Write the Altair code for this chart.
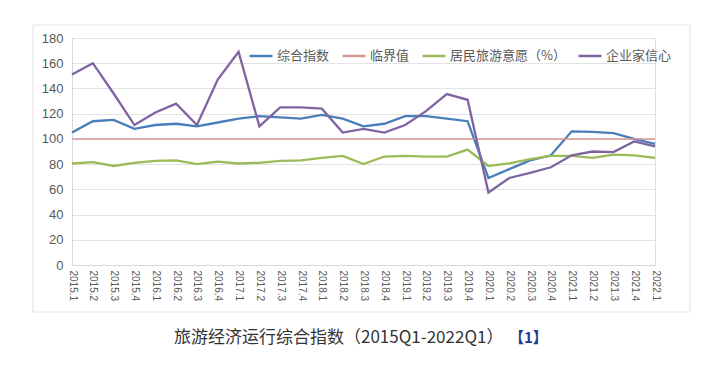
import altair as alt
import pandas as pd

quarters = ["2015.1", "2015.2", "2015.3", "2015.4", "2016.1", "2016.2", "2016.3", "2016.4",
            "2017.1", "2017.2", "2017.3", "2017.4", "2018.1", "2018.2", "2018.3", "2018.4",
            "2019.1", "2019.2", "2019.3", "2019.4", "2020.1", "2020.2", "2020.3", "2020.4",
            "2021.1", "2021.2", "2021.3", "2021.4", "2022.1"]

composite = [105, 114, 115, 108, 111, 112, 110, 113, 116, 118, 117, 116, 119, 116, 110, 112,
             118, 118, 116, 114, 69, 76, 83, 87, 106, 105.5, 104.5, 100, 96]
threshold = [100] * len(quarters)
willingness = [80.5, 81.5, 78.5, 81, 82.5, 83, 80, 82, 80.5, 81, 82.5, 83, 85, 86.5, 80, 86,
               86.5, 86, 86, 91.5, 78.5, 80.5, 84, 86.5, 86.5, 85, 87.5, 87, 85]
confidence = [151, 160, 136, 111, 121, 128, 111, 147, 169, 110, 125, 125, 124, 105, 108, 105,
              111, 122, 135.5, 131, 57.5, 69, 73, 77.5, 87, 90, 89.5, 98, 94]

series_names = ["综合指数", "临界值", "居民旅游意愿（%）", "企业家信心"]
series_colors = ["#4a7ebb", "#d99694", "#9bbb59", "#8064a2"]

title_main = "旅游经济运行综合指数（2015Q1-2022Q1）"
title_note = "【1】"

rows = []
for name, vals in zip(series_names, [composite, threshold, willingness, confidence]):
    for q, v in zip(quarters, vals):
        rows.append({"quarter": q, "series": name, "value": v})
df = pd.DataFrame(rows)

W, H = 583, 227

lines = alt.Chart(df).mark_line().encode(
    x=alt.X("quarter:O", sort=quarters, scale=alt.Scale(type="point", padding=0),
            axis=alt.Axis(title=None, labelAngle=90, labelFontSize=10, labelColor="#595959",
                          labelFont="Liberation Sans", labelPadding=5, ticks=False,
                          domainColor="#d9d9d9", grid=False, labelAlign="left",
                          labelBaseline="middle")),
    y=alt.Y("value:Q", scale=alt.Scale(domain=[0, 180], nice=False),
            axis=alt.Axis(title=None, values=list(range(0, 181, 20)), labelFontSize=13,
                          labelColor="#595959", labelFont="Liberation Sans", labelPadding=9,
                          ticks=False, domainColor="#d9d9d9", gridColor="#e3e3e3")),
    color=alt.Color("series:N", sort=series_names,
                    scale=alt.Scale(domain=series_names, range=series_colors),
                    legend=alt.Legend(title=None, orient="none", direction="horizontal",
                                      legendX=176, legendY=5, symbolType="stroke",
                                      symbolSize=529, symbolStrokeWidth=2.5,
                                      labelFontSize=13, labelColor="#595959",
                                      labelFont="Noto Sans CJK SC", labelOffset=3,
                                      columnPadding=7, padding=0)),
    strokeWidth=alt.condition(alt.datum.series == "临界值", alt.value(1.5), alt.value(2.3)),
)

frame = alt.Chart(pd.DataFrame({"a": [0]})).mark_rect(
    fill="transparent", stroke="#e6e6e6", strokeWidth=1.2
).encode(x=alt.value(-39), x2=alt.value(618), y=alt.value(-13), y2=alt.value(274))

t1 = alt.Chart(pd.DataFrame({"t": [title_main]})).mark_text(
    align="left", baseline="middle", fontSize=17, font="Noto Sans CJK SC", color="#333333"
).encode(text="t:N", x=alt.value(102), y=alt.value(300))

t2 = alt.Chart(pd.DataFrame({"t": [title_note]})).mark_text(
    align="left", baseline="middle", fontSize=15, font="Noto Sans CJK SC", fontWeight="bold",
    color="#1f3a9a"
).encode(text="t:N", x=alt.value(437), y=alt.value(300))

chart = alt.layer(frame, lines, t1, t2).properties(
    width=W, height=H,
    autosize=alt.AutoSizeParams(type="none"),
    padding={"left": 64, "top": 30, "right": 60, "bottom": 90},
).configure_view(stroke=None).configure(background="white")

chart.save("out.html", embed_options={"renderer": "svg", "actions": False})
